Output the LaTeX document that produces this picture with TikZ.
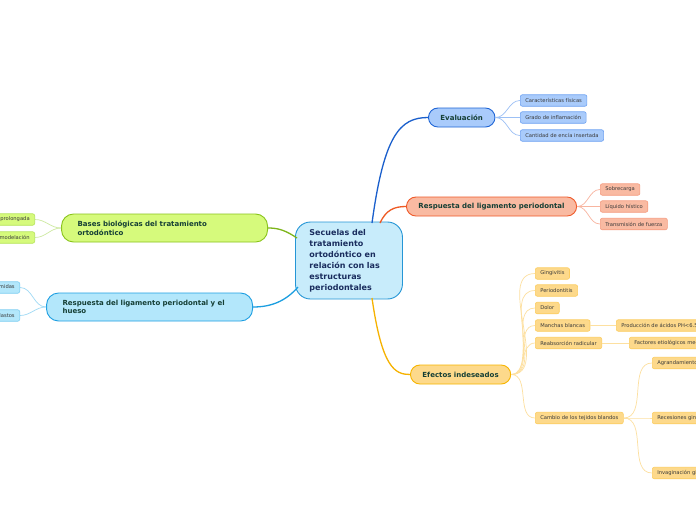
\documentclass[tikz,border=0pt]{standalone}
\usepackage{fontspec}
\setmainfont{DejaVu Sans}
\newcommand\nohyph{\hyphenpenalty=10000\relax\exhyphenpenalty=10000\relax}
\definecolor{ctrfill}{HTML}{C8ECFB}\definecolor{ctrdraw}{HTML}{2596D6}\definecolor{ctrtext}{HTML}{1A2D5E}
\definecolor{maintext}{HTML}{153F35}\definecolor{subtext}{HTML}{3A3A3A}
\definecolor{evfill}{HTML}{A9CBFB}\definecolor{evdraw}{HTML}{1F65D6}\definecolor{evline}{HTML}{1A5FCC}\definecolor{evsub}{HTML}{6EA2F2}\definecolor{evsl}{HTML}{9CC0F5}
\definecolor{rlfill}{HTML}{F9BAA2}\definecolor{rldraw}{HTML}{EF5A2A}\definecolor{rlline}{HTML}{EE5A24}\definecolor{rlsub}{HTML}{F59C80}\definecolor{rlsl}{HTML}{F8B5A0}
\definecolor{effill}{HTML}{FDD98B}\definecolor{efdraw}{HTML}{F7B500}\definecolor{efline}{HTML}{F6B200}\definecolor{efsub}{HTML}{FCCD60}\definecolor{efsl}{HTML}{FDE0A0}
\definecolor{bbfill}{HTML}{D6FA7C}\definecolor{bbdraw}{HTML}{8AC41C}\definecolor{bbline}{HTML}{7DB51A}\definecolor{bbsub}{HTML}{B6E45A}\definecolor{bbsl}{HTML}{CDE9A0}
\definecolor{rhfill}{HTML}{B3E7FB}\definecolor{rhdraw}{HTML}{1F9FE2}\definecolor{rhline}{HTML}{1B9EE0}\definecolor{rhsub}{HTML}{7FCFF2}\definecolor{rhsl}{HTML}{9FDAF5}
\tikzset{
  mainbox/.style={draw=#1draw, fill=#1fill, line width=0.9pt, rounded corners=9.5pt, minimum height=19pt, inner xsep=12pt, inner ysep=0pt, text=maintext, font=\fontsize{7}{8.5}\selectfont\bfseries},
  widebox/.style={draw=#1draw, fill=#1fill, line width=0.9pt, rounded corners=12pt, minimum height=28pt, inner xsep=16pt, inner ysep=0pt, text width=174pt, align=left, text=maintext, font=\fontsize{7}{8.5}\selectfont\bfseries\nohyph},
  subbox/.style={draw=#1sub, fill=#1fill, line width=0.6pt, rounded corners=2pt, minimum height=11.5pt, inner xsep=5pt, inner ysep=0pt, text=subtext, font=\fontsize{5.2}{6}\selectfont},
  mainline/.style={draw=#1line, line width=1.3pt},
  subline/.style={draw=#1sl, line width=0.7pt},
}
\begin{document}
\begin{tikzpicture}[x=1pt,y=-1pt]
\useasboundingbox (0,0) rectangle (696,520);
\clip (0,0) rectangle (696,520);
\fill[white] (0,0) rectangle (696,520);
% central
\node[draw=ctrdraw, fill=ctrfill, line width=0.9pt, rounded corners=15pt, minimum width=107pt, minimum height=77pt, inner xsep=14pt, text width=79pt, align=left, text=ctrtext, font=\fontsize{8}{11}\selectfont\bfseries, anchor=west] (ctr) at (295,260.5)
 {Secuelas del\\tratamiento\\ortodóntico en\\relación con las\\estructuras\\periodontales};
% main branches
\node[mainbox=ev, anchor=west] (ev) at (428,117.5) {Evaluación};
\node[mainbox=rl, anchor=west] (rl) at (406,206.5) {Respuesta del ligamento periodontal};
\node[mainbox=ef, anchor=west] (ef) at (410,374.5) {Efectos indeseados};
\node[widebox=bb, anchor=east] (bb) at (268,228) {Bases biológicas del tratamiento ortodóntico};
\node[widebox=rh, anchor=east] (rh) at (253,307) {Respuesta del ligamento periodontal y el hueso};
% central connectors
\draw[mainline=ev] (372,223) .. controls (384,135) and (400,117.5) .. (ev.west);
\draw[mainline=rl] (380,223) .. controls (386,210) and (394,206.5) .. (rl.west);
\draw[mainline=ef] (372,298) .. controls (382,368) and (395,374.5) .. (ef.west);
\draw[mainline=bb] (297,238) .. controls (285,230) and (278,228) .. (bb.east);
\draw[mainline=rh] (298,287) .. controls (285,302) and (270,307) .. (rh.east);
% evaluacion children
\node[subbox=ev, anchor=west] (ev1) at (520,100.5) {Características físicas};
\node[subbox=ev, anchor=west] (ev2) at (520,117.5) {Grado de inflamación};
\node[subbox=ev, anchor=west] (ev3) at (520,135.5) {Cantidad de encía insertada};
\foreach \c in {ev1,ev2,ev3} \draw[subline=ev] (ev.east) to[out=0,in=180] (\c.west);
% respuesta children
\node[subbox=rl, anchor=west] (rl1) at (600,189.5) {Sobrecarga};
\node[subbox=rl, anchor=west] (rl2) at (600,206.5) {Líquido hístico};
\node[subbox=rl, anchor=west] (rl3) at (600,224) {Transmisión de fuerza};
\foreach \c in {rl1,rl2,rl3} \draw[subline=rl] (rl.east) to[out=0,in=180] (\c.west);
% efectos children
\node[subbox=ef, anchor=west] (ef1) at (535,273.5) {Gingivitis};
\node[subbox=ef, anchor=west] (ef2) at (535,290.5) {Periodontitis};
\node[subbox=ef, anchor=west] (ef3) at (535,308) {Dolor};
\node[subbox=ef, anchor=west] (ef4) at (535,325.5) {Manchas blancas};
\node[subbox=ef, anchor=west] (ef5) at (535,343) {Reabsorción radicular};
\node[subbox=ef, anchor=west] (ef6) at (535,418) {Cambio de los tejidos blandos};
\foreach \c in {ef1,ef2,ef3,ef4,ef5,ef6} \draw[subline=ef] (ef.east) to[out=0,in=180] (\c.west);
\node[subbox=ef, anchor=west] (ef41) at (616,325.5) {Producción de ácidos PH<6.5};
\node[subbox=ef, anchor=west] (ef51) at (629,343) {Factores etiológicos mecánicos};
\draw[subline=ef] (ef4.east) -- (ef41.west);
\draw[subline=ef] (ef5.east) -- (ef51.west);
\node[subbox=ef, anchor=west] (ef61) at (652,363) {Agrandamiento gingival};
\node[subbox=ef, anchor=west] (ef62) at (652,418) {Recesiones gingivales};
\node[subbox=ef, anchor=west] (ef63) at (652,473) {Invaginación gingival};
\foreach \c in {ef61,ef62,ef63} \draw[subline=ef] (ef6.east) to[out=0,in=180] (\c.west);
% bases children
\node[subbox=bb, anchor=east] (bb1) at (35,219.5) {Fuerza prolongada};
\node[subbox=bb, anchor=east] (bb2) at (35,237.5) {Remodelación};
\foreach \c in {bb1,bb2} \draw[subline=bb] (bb.west) to[out=180,in=0] (\c.east);
% respuesta hueso children
\node[subbox=rh, anchor=east] (rh1) at (20,287.5) {Zonas comprimidas};
\node[subbox=rh, anchor=east] (rh2) at (20,315.5) {Osteoclastos};
\foreach \c in {rh1,rh2} \draw[subline=rh] (rh.west) to[out=180,in=0] (\c.east);
\end{tikzpicture}
\end{document}
